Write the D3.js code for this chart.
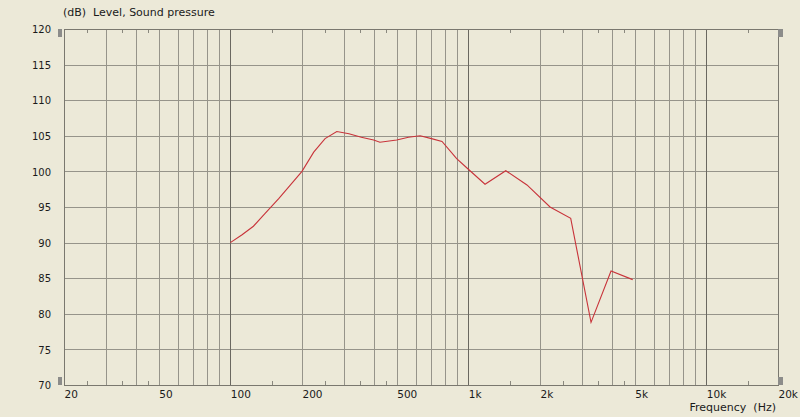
<!DOCTYPE html>
<html>
<head>
<meta charset="utf-8">
<script src="https://cdn.jsdelivr.net/npm/d3@7"></script>
<style>
  html, body { margin: 0; padding: 0; background: #ECE9D8; }
  svg { display: block; }
  text { font-family: "DejaVu Sans", Verdana, sans-serif; font-size: 10px; fill: #1a1a1a; }
</style>
</head>
<body>
<svg id="chart" width="800" height="417"></svg>
<script>
// ---- data ----
const freqs = [100, 112, 125, 140, 160, 180, 200, 224, 250, 280, 315, 355, 400, 425, 500, 560, 627, 700, 775, 893, 1000, 1175, 1436, 1763, 2204, 2692, 3277, 3976, 4904];
const levels = [90.0, 91.1, 92.3, 94.1, 96.2, 98.2, 100.0, 102.7, 104.6, 105.6, 105.3, 104.8, 104.4, 104.1, 104.4, 104.8, 105.0, 104.6, 104.2, 101.8, 100.3, 98.2, 100.1, 98.1, 95.0, 93.4, 78.8, 86.0, 84.8];
const xTickValues = [20, 50, 100, 200, 500, 1000, 2000, 5000, 10000, 20000];
const xTickLabels = ["20", "50", "100", "200", "500", "1k", "2k", "5k", "10k", "20k"];
const yTickValues = [70, 75, 80, 85, 90, 95, 100, 105, 110, 115, 120];
const gridFreqs = [30, 40, 50, 60, 70, 80, 90, 200, 300, 400, 500, 600, 700, 800, 900, 2000, 3000, 4000, 5000, 6000, 7000, 8000, 9000];
const majorFreqs = [100, 1000, 10000];
const minorTickFreqs = [25, 35, 45, 150, 250, 350, 450, 1500, 2500, 3500, 4500, 15000];
const yTitle = "(dB)  Level, Sound pressure";
const xTitle = "Frequency  (Hz)";

// ---- layout ----
const L = 64, R = 778, T = 29, B = 385;
const svg = d3.select("#chart");
const x = d3.scaleLog().domain([20, 20000]).range([L, R]);
const y = d3.scaleLinear().domain([70, 120]).range([B, T]);
const px = v => Math.round(v) + 0.5;

const grid = svg.append("g");
// horizontal grid
grid.selectAll("line.h").data(yTickValues).enter().append("line")
  .attr("x1", L).attr("x2", R)
  .attr("y1", d => px(y(d))).attr("y2", d => px(y(d)))
  .attr("stroke", "#96948a").attr("stroke-width", 1);
// vertical grid
grid.selectAll("line.v").data(gridFreqs).enter().append("line")
  .attr("x1", d => px(x(d))).attr("x2", d => px(x(d)))
  .attr("y1", T).attr("y2", B)
  .attr("stroke", "#96948a").attr("stroke-width", 1);
grid.selectAll("line.m").data(majorFreqs).enter().append("line")
  .attr("x1", d => px(x(d))).attr("x2", d => px(x(d)))
  .attr("y1", T).attr("y2", B)
  .attr("stroke", "#6a6860").attr("stroke-width", 1);
// frame
svg.append("rect").attr("x", px(L)).attr("y", px(T))
  .attr("width", Math.round(R) - Math.round(L)).attr("height", Math.round(B) - Math.round(T))
  .attr("fill", "none").attr("stroke", "#7a786f").attr("stroke-width", 1);
// minor ticks top & bottom
grid.selectAll("line.tb").data(minorTickFreqs).enter().append("line")
  .attr("x1", d => px(x(d))).attr("x2", d => px(x(d)))
  .attr("y1", B).attr("y2", B - 4)
  .attr("stroke", "#8a887e");
grid.selectAll("line.tt").data(minorTickFreqs).enter().append("line")
  .attr("x1", d => px(x(d))).attr("x2", d => px(x(d)))
  .attr("y1", T).attr("y2", T + 4)
  .attr("stroke", "#8a887e");

// handles
const handles = [[58, 29, 4, 8], [58, 377, 4, 8], [778, 29, 5, 8], [778, 377, 5, 8]];
svg.selectAll("rect.hd").data(handles).enter().append("rect")
  .attr("x", d => d[0]).attr("y", d => d[1]).attr("width", d => d[2]).attr("height", d => d[3])
  .attr("fill", "#8c8c8a");

// axes (labels)
const xAxis = d3.axisBottom(x).tickValues(xTickValues)
  .tickFormat((d, i) => xTickLabels[i]).tickSize(0).tickPadding(0);
const gx = svg.append("g").attr("transform", `translate(0,${B})`).call(xAxis);
gx.select(".domain").remove();
gx.selectAll("text").attr("text-anchor", "start").attr("dy", null).attr("y", 13)
  .style("font-family", "'DejaVu Sans', Verdana, sans-serif").style("font-size", "10.5px").attr("fill", "#1a1a1a");

const yAxis = d3.axisLeft(y).tickValues(yTickValues).tickSize(0).tickPadding(0);
const gy = svg.append("g").attr("transform", `translate(51,0)`).call(yAxis);
gy.select(".domain").remove();
gy.selectAll("text").attr("text-anchor", "end").attr("dy", "0.36em").attr("x", 0)
  .style("font-family", "'DejaVu Sans', Verdana, sans-serif").style("font-size", "10px").attr("fill", "#1a1a1a");

// titles
svg.append("text").attr("x", 63).attr("y", 16).style("white-space", "pre")
  .style("font-size", "11px").text(yTitle);
svg.append("text").attr("x", 776).attr("y", 411).attr("text-anchor", "end").style("white-space", "pre")
  .style("font-size", "11px").text(xTitle);

// data line
const pts = freqs.map((f, i) => [f, levels[i]]);
svg.append("path").datum(pts)
  .attr("d", d3.line().x(d => x(d[0])).y(d => y(d[1])))
  .attr("fill", "none").attr("stroke", "#c8333a").attr("stroke-width", 1.1);
</script>
</body>
</html>
